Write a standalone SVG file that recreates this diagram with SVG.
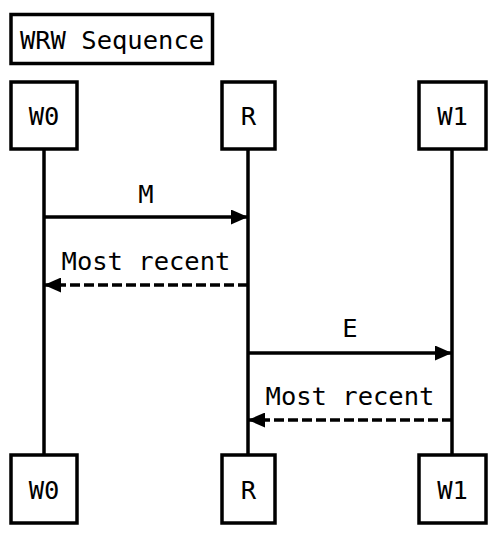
<svg xmlns="http://www.w3.org/2000/svg" width="502" height="536" viewBox="0 0 502 536">
<style>
.box{fill:#fff;stroke:#000;stroke-width:3.5}
.life{stroke:#000;stroke-width:3.5}
.t{font-family:"DejaVu Sans Mono","Liberation Mono",monospace;font-size:25.5px;fill:#000;text-anchor:middle}
.msg{stroke:#000;stroke-width:3.5;fill:none}
.dash{stroke-dasharray:10,4}
</style>
<defs>
<marker id="ah" viewBox="0 0 17 15" refX="17" refY="7.5" markerWidth="17" markerHeight="15" markerUnits="userSpaceOnUse" orient="auto">
<path d="M0,0 L17,7.5 L0,15 Z" fill="#000"/>
</marker>
</defs>
<rect width="502" height="536" fill="#fff"/>
<g id="title">
<rect class="box" x="11" y="14.5" width="201.5" height="49"/>
<text class="t" x="112" y="49">WRW Sequence</text>
</g>
<g id="lifelines">
<line class="life" x1="44" y1="150" x2="44" y2="455"/>
<line class="life" x1="248" y1="150" x2="248" y2="455"/>
<line class="life" x1="452" y1="150" x2="452" y2="455"/>
</g>
<g id="W0">
<rect class="box" x="11" y="82" width="66" height="67"/>
<text class="t" x="44" y="125">W0</text>
</g>
<g id="R">
<rect class="box" x="222" y="82" width="53" height="67"/>
<text class="t" x="248.5" y="125">R</text>
</g>
<g id="W1">
<rect class="box" x="419" y="82" width="67" height="67"/>
<text class="t" x="452.5" y="125">W1</text>
</g>
<g id="W0b">
<rect class="box" x="11" y="455" width="66" height="68"/>
<text class="t" x="44" y="499">W0</text>
</g>
<g id="Rb">
<rect class="box" x="222" y="455" width="53" height="68"/>
<text class="t" x="248.5" y="499">R</text>
</g>
<g id="W1b">
<rect class="box" x="419" y="455" width="67" height="68"/>
<text class="t" x="452.5" y="499">W1</text>
</g>
<g id="connectors">
<line class="msg" x1="44" y1="217" x2="248" y2="217" marker-end="url(#ah)"/>
<text class="t" x="146" y="203">M</text>
<line class="msg dash" x1="248" y1="285" x2="44" y2="285" marker-end="url(#ah)"/>
<text class="t" x="146" y="270">Most recent</text>
<line class="msg" x1="248" y1="353" x2="452" y2="353" marker-end="url(#ah)"/>
<text class="t" x="350" y="337">E</text>
<line class="msg dash" x1="452" y1="420" x2="248" y2="420" marker-end="url(#ah)"/>
<text class="t" x="350" y="405">Most recent</text>
</g>
</svg>
